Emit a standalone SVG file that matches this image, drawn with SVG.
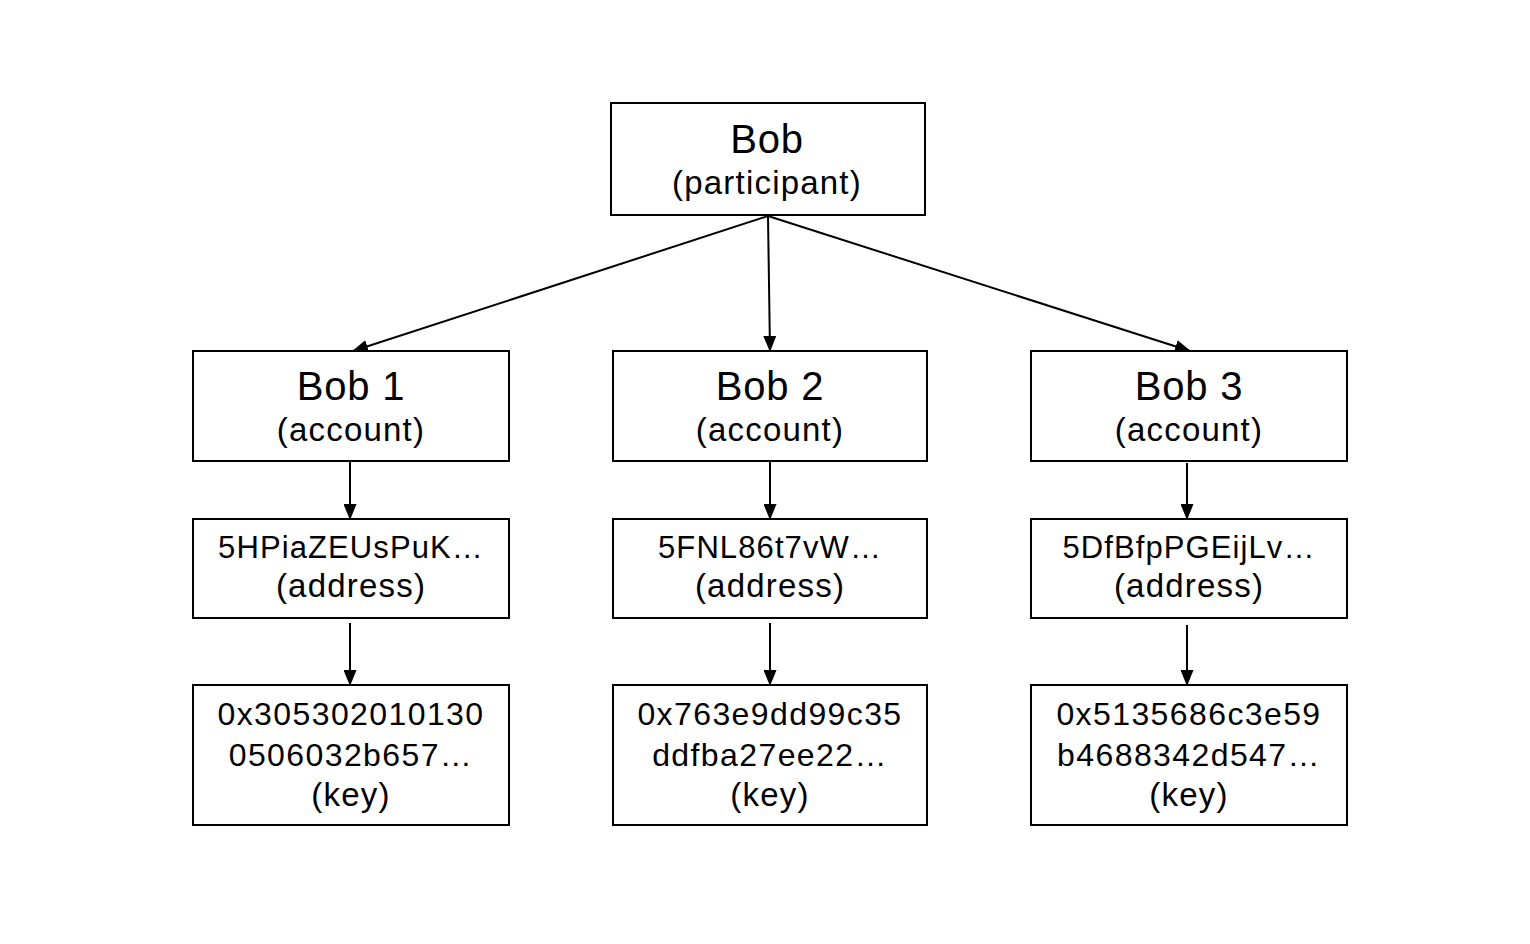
<svg xmlns="http://www.w3.org/2000/svg" width="1530" height="944" viewBox="0 0 1530 944">
<style>
rect.box{fill:#fff;stroke:#000;stroke-width:2}
text{font-family:"Liberation Sans",Arial,sans-serif;fill:#000;text-anchor:middle}
.t{font-size:40px;letter-spacing:0.8px}
.s{font-size:33px;letter-spacing:1.2px}
.a{font-size:31px;letter-spacing:1.1px}
.k{font-size:32px;letter-spacing:1.4px}
.c line{stroke:#000;stroke-width:2}
</style>
<defs>
<marker id="ah" markerWidth="16" markerHeight="13" refX="15" refY="6.5" orient="auto" markerUnits="userSpaceOnUse">
<path d="M0,0 L16,6.5 L0,13 Z" fill="#000"/>
</marker>
</defs>
<rect width="1530" height="944" fill="#fff"/>
<g class="c" id="connectors">
<line x1="768" y1="216" x2="353" y2="351" marker-end="url(#ah)"/>
<line x1="768" y1="216" x2="770" y2="351" marker-end="url(#ah)"/>
<line x1="768" y1="216" x2="1190" y2="351" marker-end="url(#ah)"/>
<line x1="350" y1="462" x2="350" y2="519" marker-end="url(#ah)"/>
<line x1="770" y1="462" x2="770" y2="519" marker-end="url(#ah)"/>
<line x1="1187" y1="463" x2="1187" y2="519" marker-end="url(#ah)"/>
<line x1="350" y1="623" x2="350" y2="685" marker-end="url(#ah)"/>
<line x1="770" y1="623" x2="770" y2="685" marker-end="url(#ah)"/>
<line x1="1187" y1="625" x2="1187" y2="685" marker-end="url(#ah)"/>
</g>
<g id="bob">
<rect class="box" x="611" y="103" width="314" height="112"/>
<text class="t" x="767" y="153">Bob</text>
<text class="s" x="767" y="194">(participant)</text>
</g>
<g id="bob1">
<rect class="box" x="193" y="351" width="316" height="110"/>
<text class="t" x="351" y="400">Bob 1</text>
<text class="s" x="351" y="441">(account)</text>
</g>
<g id="bob2">
<rect class="box" x="613" y="351" width="314" height="110"/>
<text class="t" x="770" y="400">Bob 2</text>
<text class="s" x="770" y="441">(account)</text>
</g>
<g id="bob3">
<rect class="box" x="1031" y="351" width="316" height="110"/>
<text class="t" x="1189" y="400">Bob 3</text>
<text class="s" x="1189" y="441">(account)</text>
</g>
<g id="addr1">
<rect class="box" x="193" y="519" width="316" height="99"/>
<text class="a" x="351" y="558">5HPiaZEUsPuK…</text>
<text class="s" x="351" y="597">(address)</text>
</g>
<g id="addr2">
<rect class="box" x="613" y="519" width="314" height="99"/>
<text class="a" x="770" y="558">5FNL86t7vW…</text>
<text class="s" x="770" y="597">(address)</text>
</g>
<g id="addr3">
<rect class="box" x="1031" y="519" width="316" height="99"/>
<text class="a" x="1189" y="558">5DfBfpPGEijLv…</text>
<text class="s" x="1189" y="597">(address)</text>
</g>
<g id="key1">
<rect class="box" x="193" y="685" width="316" height="140"/>
<text class="k" x="351" y="725">0x305302010130</text>
<text class="k" x="351" y="766">0506032b657…</text>
<text class="s" x="351" y="806">(key)</text>
</g>
<g id="key2">
<rect class="box" x="613" y="685" width="314" height="140"/>
<text class="k" x="770" y="725">0x763e9dd99c35</text>
<text class="k" x="770" y="766">ddfba27ee22…</text>
<text class="s" x="770" y="806">(key)</text>
</g>
<g id="key3">
<rect class="box" x="1031" y="685" width="316" height="140"/>
<text class="k" x="1189" y="725">0x5135686c3e59</text>
<text class="k" x="1189" y="766">b4688342d547…</text>
<text class="s" x="1189" y="806">(key)</text>
</g>
</svg>
